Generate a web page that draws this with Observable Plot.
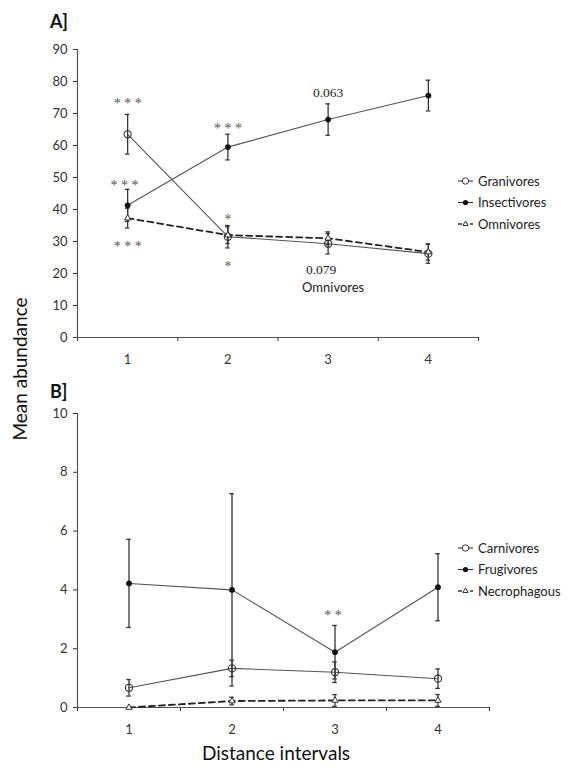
<!DOCTYPE html>
<html><head><meta charset="utf-8">
<script src="https://cdn.jsdelivr.net/npm/d3@7"></script>
<script src="https://cdn.jsdelivr.net/npm/@observablehq/plot@0.6"></script>
<style>
body{margin:0;background:#fff;font-family:Lato,"Open Sans",sans-serif;color:#222;}
#wrap{position:relative;width:572px;height:779px;overflow:hidden;background:#fff;}
.abs{position:absolute;white-space:nowrap;}
</style></head><body><div id="wrap"></div>
<script>
// ---------- data ----------
const intervals = [1, 2, 3, 4];
const boundaries = [0.5, 1.5, 2.5, 3.5, 4.5];

// Panel A
const granivores      = [63.5, 31.5, 29.3, 26.2];
const granivoresErr   = [6.2, 3.5, 3.2, 3.0];
const insectivores    = [41.3, 59.5, 68.1, 75.6];
const insectivoresErr = [5.0, 4.0, 4.9, 4.8];
const omnivores       = [37.3, 32.0, 31.0, 26.7];
const omnivoresErr    = [3.1, 2.6, 2.0, 2.5];
const yTicksA = [0, 10, 20, 30, 40, 50, 60, 70, 80, 90];
const namesA = ["Granivores", "Insectivores", "Omnivores"];
const annotationsA = [
  {x: 1.0, y: 74.4, label: "* * *", serif: true},
  {x: 0.97, y: 48.8, label: "* * *", serif: true},
  {x: 1.0, y: 29.7, label: "* * *", serif: true},
  {x: 2.0, y: 66.6, label: "* * *", serif: true},
  {x: 2.0, y: 38.2, label: "*", serif: true},
  {x: 2.0, y: 23.5, label: "*", serif: true},
  {x: 3.0, y: 76.4, label: "0.063", serif: true},
  {x: 2.93, y: 21.2, label: "0.079", serif: true},
  {x: 3.05, y: 15.5, label: "Omnivores", serif: false}
];

// Panel B
const carnivores      = [0.67, 1.33, 1.20, 0.98];
const carnivoresErr   = [0.28, 0.28, 0.35, 0.33];
const frugivores      = [4.22, 4.00, 1.88, 4.09];
const frugivoresErr   = [1.50, 3.27, 0.91, 1.14];
const necrophagous    = [0.00, 0.22, 0.24, 0.24];
const necrophagousErr = [0.00, 0.13, 0.20, 0.20];
const yTicksB = [0, 2, 4, 6, 8, 10];
const namesB = ["Carnivores", "Frugivores", "Necrophagous"];
const annotationsB = [
  {x: 2.98, y: 3.27, label: "* *", serif: true}
];

// ---------- helpers ----------
const STYLES = [
  {marker: "open", dashed: false},
  {marker: "filled", dashed: false},
  {marker: "triangle", dashed: true}
];
function rows(name, vals, errs, k) {
  return intervals.map((x, i) => ({series: name, k, x, y: vals[i], err: errs[i], lo: vals[i] - errs[i], hi: vals[i] + errs[i]}));
}

function panel(cfg) {
  const marks = [
    Plot.axisY({ticks: cfg.yTicks, tickSize: 4, tickPadding: 6, label: null, fontSize: 13}),
    Plot.axisX({ticks: boundaries, tickSize: 4, tickFormat: () => "", label: null}),
    Plot.axisX({ticks: intervals, tickSize: 0, tickPadding: 17, label: null, fontSize: 13, tickFormat: d => String(d)}),
    Plot.ruleX([0.5], {y1: cfg.yMin, y2: cfg.yMax, stroke: "#555", strokeWidth: 1.2}),
    Plot.ruleY([cfg.yMin], {stroke: "#555", strokeWidth: 1.2})
  ];
  cfg.series.forEach((s, k) => {
    const st = STYLES[k];
    const d = rows(s.name, s.values, s.errs, k);
    marks.push(Plot.line(d, {x: "x", y: "y", stroke: st.dashed ? "#222" : "#555",
      strokeWidth: st.dashed ? 1.8 : 1.1, strokeDasharray: st.dashed ? "6,4" : null}));
  });
  cfg.series.forEach((s, k) => {
    const d = rows(s.name, s.values, s.errs, k).filter(r => r.err > 0);
    marks.push(Plot.ruleX(d, {x: "x", y1: "lo", y2: "hi", stroke: "#333", strokeWidth: 1.3}));
    marks.push(Plot.ruleY(d, {y: "hi", x1: r => r.x - 0.022, x2: r => r.x + 0.022, stroke: "#333", strokeWidth: 1.3}));
    marks.push(Plot.ruleY(d, {y: "lo", x1: r => r.x - 0.022, x2: r => r.x + 0.022, stroke: "#333", strokeWidth: 1.3}));
  });
  cfg.series.forEach((s, k) => {
    const st = STYLES[k];
    const d = rows(s.name, s.values, s.errs, k);
    if (st.marker === "open") marks.push(Plot.dot(d, {x: "x", y: "y", r: 3.6, fill: "none", stroke: "#333", strokeWidth: 1.1}));
    else if (st.marker === "filled") marks.push(Plot.dot(d, {x: "x", y: "y", r: 2.7, fill: "#111", stroke: "#111", strokeWidth: 0.5}));
    else marks.push(Plot.dot(d, {x: "x", y: "y", r: 2.3, symbol: "triangle", fill: "white", stroke: "#333", strokeWidth: 1}));
  });
  marks.push(Plot.text(cfg.annotations.filter(a => a.serif && a.label.includes("*")), {x: "x", y: "y", text: "label", fontFamily: "Liberation Serif", fontSize: 14, fill: "#555", dy: 4}));
  marks.push(Plot.text(cfg.annotations.filter(a => a.serif && !a.label.includes("*")), {x: "x", y: "y", text: "label", fontFamily: "Liberation Serif", fontSize: 13.5, fill: "#222"}));
  marks.push(Plot.text(cfg.annotations.filter(a => !a.serif), {x: "x", y: "y", text: "label", fontFamily: "Lato", fontSize: 13, fill: "#222"}));

  return Plot.plot({
    width: 572, height: cfg.height,
    marginLeft: 77, marginRight: cfg.marginRight, marginTop: cfg.marginTop, marginBottom: cfg.marginBottom,
    x: {domain: [0.5, 4.5]},
    y: {domain: [cfg.yMin, cfg.yMax]},
    style: {fontFamily: "Lato, 'Open Sans', sans-serif", fontSize: "13px", color: "#333", background: "white", overflow: "visible"},
    marks
  });
}

function legend(names, top) {
  const svg = d3.create("svg").attr("width", 120).attr("height", 70)
    .style("position", "absolute").style("left", "452px").style("top", top + "px").style("overflow", "visible");
  names.forEach((n, k) => {
    const st = STYLES[k];
    const y = 10 + k * 21.5;
    svg.append("line").attr("x1", 6).attr("x2", 21).attr("y1", y).attr("y2", y)
      .attr("stroke", "#333").attr("stroke-width", st.dashed ? 1.6 : 1.1)
      .attr("stroke-dasharray", st.dashed ? "4,2" : null);
    if (st.marker === "open") svg.append("circle").attr("cx", 13.5).attr("cy", y).attr("r", 3.2).attr("fill", "white").attr("stroke", "#333");
    else if (st.marker === "filled") svg.append("circle").attr("cx", 13.5).attr("cy", y).attr("r", 2.6).attr("fill", "#111");
    else svg.append("path").attr("d", d3.symbol(d3.symbolTriangle, 12)()).attr("transform", `translate(13.5,${y})`).attr("fill", "white").attr("stroke", "#333");
    svg.append("text").attr("x", 26).attr("y", y).attr("dy", "0.35em").attr("font-family", "Lato, sans-serif")
      .attr("font-size", 13).attr("fill", "#222").text(n);
  });
  return svg.node();
}

// ---------- layout ----------
const wrap = document.getElementById("wrap");

const A = panel({
  height: 370, marginTop: 49, marginBottom: 33, marginRight: 94, yMin: 0, yMax: 90, yTicks: yTicksA,
  series: [
    {name: namesA[0], values: granivores, errs: granivoresErr},
    {name: namesA[1], values: insectivores, errs: insectivoresErr},
    {name: namesA[2], values: omnivores, errs: omnivoresErr}
  ],
  annotations: annotationsA
});
A.style.position = "absolute"; A.style.left = "0px"; A.style.top = "0px";
wrap.appendChild(A);

const B = panel({
  height: 409, marginTop: 43, marginBottom: 72, marginRight: 83, yMin: 0, yMax: 10, yTicks: yTicksB,
  series: [
    {name: namesB[0], values: carnivores, errs: carnivoresErr},
    {name: namesB[1], values: frugivores, errs: frugivoresErr},
    {name: namesB[2], values: necrophagous, errs: necrophagousErr}
  ],
  annotations: annotationsB
});
B.style.position = "absolute"; B.style.left = "0px"; B.style.top = "370px";
wrap.appendChild(B);

wrap.appendChild(legend(namesA, 171));
wrap.appendChild(legend(namesB, 538));

function label(text, css) {
  const el = document.createElement("div");
  el.className = "abs"; el.textContent = text;
  Object.assign(el.style, css);
  wrap.appendChild(el);
}
label("A]", {left: "50px", top: "10px", fontSize: "18px", fontWeight: "bold", color: "#111"});
label("B]", {left: "50px", top: "380px", fontSize: "18px", fontWeight: "bold", color: "#111"});
label("Mean abundance", {left: "19px", top: "369px", fontSize: "19px", color: "#111",
  transform: "translate(-50%,-50%) rotate(-90deg)"});
label("Distance intervals", {left: "276px", top: "752px", fontSize: "19px", color: "#111",
  transform: "translate(-50%,-50%)"});
</script></body></html>
